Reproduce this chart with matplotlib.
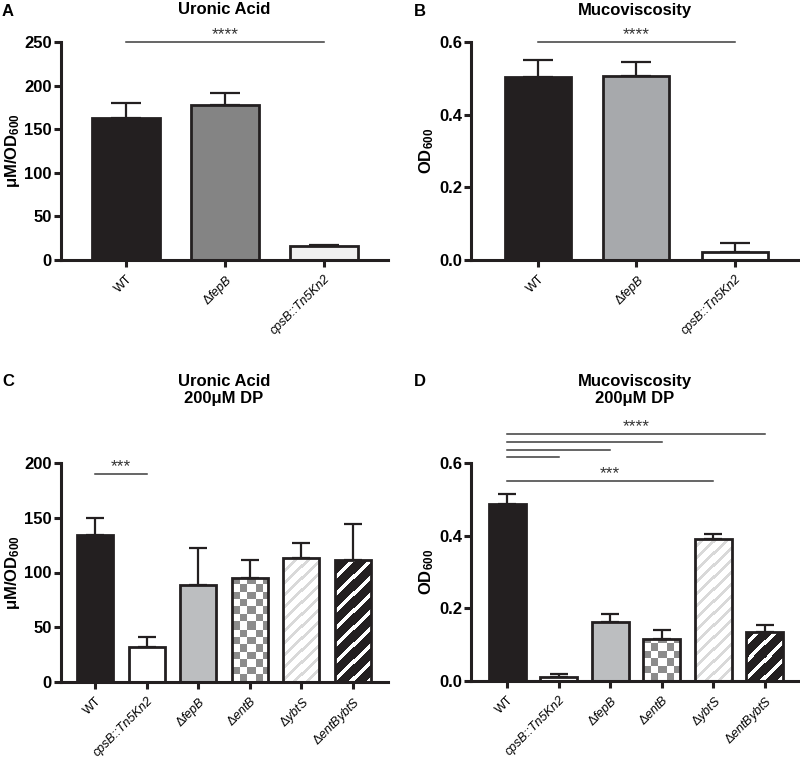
import numpy as np
import matplotlib
matplotlib.use('Agg')
import matplotlib.pyplot as plt
from matplotlib.colors import ListedColormap

plt.rcParams['font.family'] = ['Liberation Sans', 'DejaVu Sans']
plt.rcParams['mathtext.fontset'] = 'custom'
plt.rcParams['mathtext.rm'] = 'Liberation Sans'
plt.rcParams['mathtext.it'] = 'Liberation Sans:italic'
plt.rcParams['mathtext.bf'] = 'Liberation Sans:bold'

# %%
# values
labels_ab = [r'WT', r'$\Delta\mathit{fepB}$', 'cpsB::Tn5Kn2']
uronic_ab = [163, 178, 16]
uronic_ab_err = [17, 13, 1.5]
muco_ab = [0.504, 0.506, 0.022]
muco_ab_err = [0.046, 0.040, 0.025]

labels_cd = [r'WT', 'cpsB::Tn5Kn2', r'$\Delta\mathit{fepB}$',
             r'$\Delta\mathit{entB}$', r'$\Delta\mathit{ybtS}$', r'$\Delta\mathit{entBybtS}$']
uronic_cd = [134, 32, 88.5, 95, 113, 111]
uronic_cd_err = [16, 9, 34, 16, 14, 33]
muco_cd = [0.487, 0.010, 0.163, 0.115, 0.390, 0.135]
muco_cd_err = [0.028, 0.010, 0.021, 0.025, 0.014, 0.019]

# significance bars: (from, to, height, label)
sig_a = [(0, 2, 250, '****')]
sig_b = [(0, 2, 0.6, '****')]
sig_c = [(0, 1, 190, '***')]
sig_d = [(0, 5, 0.680, '****'), (0, 3, 0.658, ''), (0, 2, 0.636, ''),
         (0, 1, 0.617, ''), (0, 4, 0.550, '***')]

# %%
W, H = 800, 763
fig = plt.figure(figsize=(8, 7.63), dpi=100)


def add_ax(x0, x1, ytop, ybot):
    return fig.add_axes([x0 / W, 1 - ybot / H, (x1 - x0) / W, (ybot - ytop) / H])


def style(ax, ylim, yticks, fmt, xlim, labels, ylabel):
    ax.set_xlim(*xlim)
    ax.set_ylim(*ylim)
    ax.set_yticks(yticks)
    ax.set_yticklabels([fmt.format(t) for t in yticks], fontsize=12, fontweight='bold')
    ax.set_xticks(range(len(labels)))
    ax.set_xticklabels(labels, rotation=45, ha='right', rotation_mode='anchor', fontsize=9)
    for t in ax.get_xticklabels():
        if t.get_text().startswith('cps'):
            t.set_fontstyle('italic')
    for s in ['top', 'right']:
        ax.spines[s].set_visible(False)
    for s in ['left', 'bottom']:
        ax.spines[s].set_linewidth(2.2)
        ax.spines[s].set_color('#231f20')
    ax.tick_params(axis='both', width=2.2, length=5, color='#231f20', pad=1.5)
    ax.tick_params(axis='x', pad=4)
    ax.set_ylabel(ylabel, fontsize=12, fontweight='bold', labelpad=2)


def pattern(kind, nr, nc):
    i, j = np.mgrid[0:nr, 0:nc]
    if kind == 'checker':
        return ((i // 7.4).astype(int) + (j // 7.4).astype(int)) % 2
    if kind == 'grey_stripes':
        return (((i - j) % 12) < 4).astype(int)
    # white stripes on black
    return (((i - j) % 17) < 5).astype(int)


def draw_bars(ax, vals, errs, styles, width, cap):
    x = np.arange(len(vals))
    for i, (v, st) in enumerate(zip(vals, styles)):
        b = ax.bar(x[i], v, width, color=st[1], linewidth=0, zorder=2)
        if len(st) > 2:
            p = b[0]
            bb = p.get_window_extent()
            nr, nc = int(round(bb.height)), int(round(bb.width))
            img = ax.imshow(pattern(st[0], nr, nc), cmap=ListedColormap([st[1], st[2]]),
                            vmin=0, vmax=1,
                            extent=[x[i] - width / 2, x[i] + width / 2, 0, v],
                            origin='lower', aspect='auto', interpolation='nearest', zorder=2.5)
            img.set_clip_path(p)
        ax.bar(x[i], v, width, fill=False, edgecolor='#231f20', linewidth=2.0, zorder=3)
    ax.errorbar(x, vals, yerr=[np.zeros(len(errs)), errs], fmt='none', ecolor='#231f20',
                elinewidth=1.6, capsize=cap, capthick=1.6, zorder=1)


def draw_sig(ax, sigs):
    for a, b, h, lab in sigs:
        ax.plot([a, b], [h, h], color='#3c3c3c', lw=1.1, clip_on=False)
        if lab:
            ax.text((a + b) / 2, h, lab, ha='center', va='bottom', fontsize=12.5,
                    color='#333333', clip_on=False)


# %%
# Panel A
axA = add_ax(61, 388, 42, 260)
style(axA, (0, 250), [0, 50, 100, 150, 200, 250], '{:d}', (-0.657, 2.65), labels_ab,
      r'μM/OD$_{\mathbf{600}}$')
draw_bars(axA, uronic_ab, uronic_ab_err,
          [('solid', '#231f20'), ('solid', '#848484'), ('solid', '#f0f0f0')], 0.69, 10.5)
draw_sig(axA, sig_a)

# Panel B
axB = add_ax(471, 800, 42, 260)
style(axB, (0, 0.6), [0, 0.2, 0.4, 0.6], '{:.1f}', (-0.68, 2.66), labels_ab,
      r'OD$_{\mathbf{600}}$')
draw_bars(axB, muco_ab, muco_ab_err,
          [('solid', '#231f20'), ('solid', '#a7a9ac'), ('solid', 'white')], 0.67, 10.5)
draw_sig(axB, sig_b)

styles_cd = [('solid', '#231f20'), ('solid', 'white'), ('solid', '#bcbec0'),
             ('checker', 'white', '#8c8c8c'),
             ('grey_stripes', 'white', '#d9d9d9'),
             ('white_stripes', '#231f20', 'white')]

# Panel C
axC = add_ax(61, 388, 463, 682)
style(axC, (0, 200), [0, 50, 100, 150, 200], '{:d}', (-0.66, 5.68), labels_cd,
      r'μM/OD$_{\mathbf{600}}$')
draw_bars(axC, uronic_cd, uronic_cd_err, styles_cd, 0.70, 6.5)
draw_sig(axC, sig_c)
axC.set_xlim(-0.66, 5.68)
axC.set_ylim(0, 200)

# Panel D
axD = add_ax(471, 800, 463, 681)
style(axD, (0, 0.6), [0, 0.2, 0.4, 0.6], '{:.1f}', (-0.70, 5.68), labels_cd,
      r'OD$_{\mathbf{600}}$')
draw_bars(axD, muco_cd, muco_cd_err, styles_cd, 0.72, 6.5)
draw_sig(axD, sig_d)
axD.set_xlim(-0.70, 5.68)
axD.set_ylim(0, 0.6)

# titles and panel letters
fig.text(224 / W, 1 - 10 / H, 'Uronic Acid', ha='center', va='center', fontsize=12, fontweight='bold')
fig.text(635 / W, 1 - 10 / H, 'Mucoviscosity', ha='center', va='center', fontsize=12, fontweight='bold')
fig.text(224 / W, 1 - 390 / H, 'Uronic Acid\n200μM DP', ha='center', va='center', fontsize=12,
         fontweight='bold', linespacing=1.1)
fig.text(635 / W, 1 - 390 / H, 'Mucoviscosity\n200μM DP', ha='center', va='center', fontsize=12,
         fontweight='bold', linespacing=1.1)
for lab, x, y in [('A', 8, 11), ('B', 420, 11), ('C', 8, 381), ('D', 420, 381)]:
    fig.text(x / W, 1 - y / H, lab, ha='center', va='center', fontsize=12, fontweight='bold')

fig.savefig('out.png', dpi=100)
